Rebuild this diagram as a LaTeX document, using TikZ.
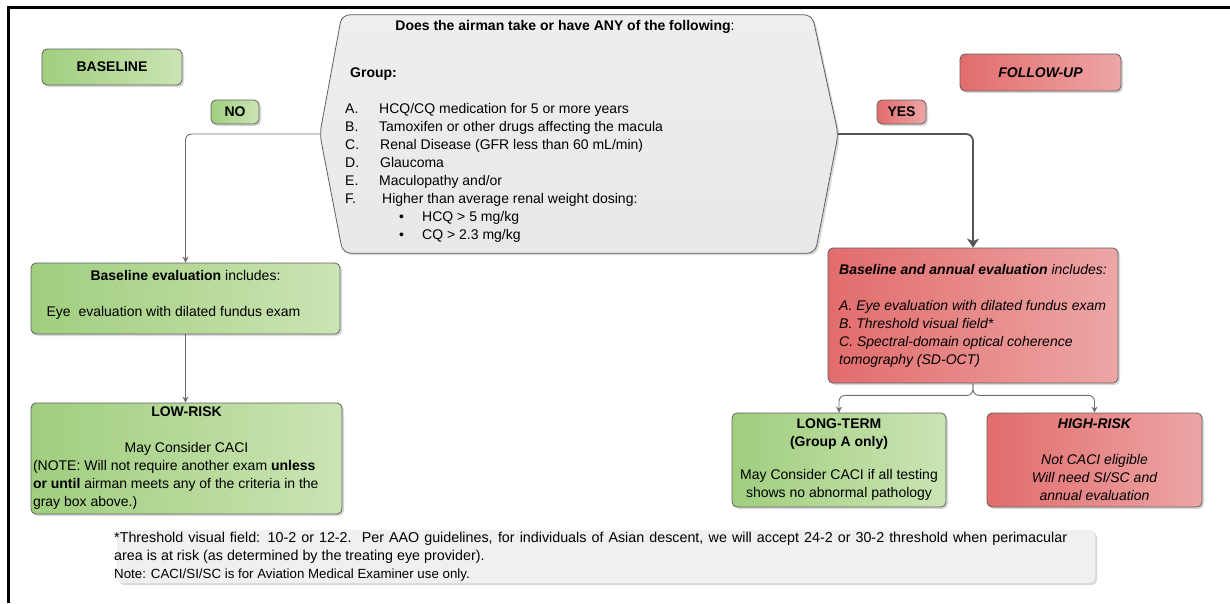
\documentclass[tikz,border=0pt]{standalone}
\usepackage{fontspec}
\setmainfont{Liberation Sans}
\usetikzlibrary{shadows,arrows.meta}
\definecolor{greenL}{RGB}{160,206,126}
\definecolor{greenR}{RGB}{203,228,180}
\definecolor{redL}{RGB}{226,108,108}
\definecolor{redR}{RGB}{237,166,166}
\definecolor{hexT}{RGB}{238,238,238}
\definecolor{hexB}{RGB}{232,232,232}
\definecolor{footc}{RGB}{240,240,240}
\definecolor{edge}{RGB}{95,95,95}
\definecolor{connc}{RGB}{110,110,110}
\definecolor{yesc}{RGB}{85,85,85}
\newcommand\mainsize{\fontsize{14}{18}\selectfont}
\newcommand\footsize{\fontsize{14.3}{18}\selectfont}
\newcommand\notesize{\fontsize{13.3}{18}\selectfont}
\begin{document}
\begin{tikzpicture}[x=1pt,y=-1pt,font=\mainsize,
  shad/.style={drop shadow={shadow xshift=2pt,shadow yshift=-2pt,opacity=0.3}},
  box/.style={draw=edge,line width=0.8pt,rounded corners=5pt,shad,inner sep=2pt},
  gbox/.style={box,left color=greenL,right color=greenR},
  rbox/.style={box,left color=redL,right color=redR},
  conn/.style={draw=connc,line width=0.9pt,rounded corners=6pt,-{Stealth[length=6pt,width=6pt]}},
  yesconn/.style={draw=yesc,line width=1.8pt,rounded corners=7pt,-{Stealth[length=9pt,width=12pt,inset=2.5pt]}}]
\useasboundingbox (0,0) rectangle (1230,603);
\draw[line width=3pt] (8.5,603) -- (8.5,7) -- (1230,7);

% central hexagon
\node[minimum width=518pt,minimum height=238pt,inner sep=0] (q) at (579,134) {};
\path[draw=edge,line width=0.8pt,top color=hexT,bottom color=hexB,rounded corners=8pt,shad]
  ([xshift=22pt]q.north west) -- ([xshift=-26pt]q.north east) -- (q.east)
  -- ([xshift=-23pt]q.south east) -- ([xshift=23pt]q.south west) -- (q.west) -- cycle;
\node (qtitle) at (565,27) {\textbf{Does the airman take or have ANY of the following}:};
\node[anchor=north west,align=left,inner sep=0] (qbody) at (345,64.4) {\strut\hspace*{5pt}\textbf{Group:}\\[18pt]
\makebox[34pt][l]{A.}HCQ/CQ medication for 5 or more years\\
\makebox[34pt][l]{B.}Tamoxifen or other drugs affecting the macula\\
\makebox[35pt][l]{C.}Renal Disease (GFR less than 60 mL/min)\\
\makebox[35pt][l]{D.}Glaucoma\\
\makebox[34pt][l]{E.}Maculopathy and/or\\
\makebox[37pt][l]{F.}Higher than average renal weight dosing:\\
\hspace*{54pt}\makebox[23pt][l]{\textbullet}HCQ > 5 mg/kg\\
\hspace*{54pt}\makebox[23pt][l]{\textbullet}CQ > 2.3 mg/kg};

% labels
\node[gbox,minimum width=140pt,minimum height=36pt] (baseline) at (112,67) {\textbf{BASELINE}};
\node[gbox,minimum width=48pt,minimum height=24pt] (no) at (235,112) {\textbf{NO}};
\node[rbox,minimum width=161pt,minimum height=37pt] (follow) at (1040.5,72.5) {\textbf{\textit{FOLLOW-UP}}};
\node[rbox,minimum width=49pt,minimum height=24pt] (yes) at (901.5,112) {\textbf{YES}};

% left branch
\node[gbox,minimum width=309pt,minimum height=71pt,align=center] (baseEval) at (185.5,298.5)
  {\textbf{Baseline evaluation} includes:\\[18pt]\hspace*{-24pt}Eye\ \ evaluation with dilated fundus exam\\[-8pt]\mbox{}};
\node[gbox,minimum width=309pt,minimum height=111pt,align=center] (lowRisk) at (186.5,458.5)
  {\textbf{LOW-RISK}\\[18pt]May Consider CACI\\
   \makebox[307pt][l]{(NOTE: Will not require another exam \textbf{unless}}\\
   \makebox[307pt][l]{\textbf{or until} airman meets any of the criteria in the}\\
   \makebox[307pt][l]{gray box above.)}};

% right branch
\node[rbox,minimum width=290pt,minimum height=135pt,align=left,font=\mainsize\itshape] (annual) at (973,315.5)
  {\textbf{Baseline and annual evaluation} includes:\\[18pt]
   A. Eye evaluation with dilated fundus exam\\
   B. Threshold visual field*\\
   C. Spectral-domain optical coherence\\
   tomography (SD-OCT)};
\node[gbox,minimum width=214pt,minimum height=94pt,align=center] (longTerm) at (839,460)
  {\textbf{LONG-TERM}\\\textbf{(Group A only)}\\[15pt]May Consider CACI if all testing\\shows no abnormal pathology};
\node[rbox,minimum width=215pt,minimum height=94pt,align=center,font=\mainsize\itshape] (highRisk) at (1094.5,460)
  {\textbf{HIGH-RISK}\\[18pt]Not CACI eligible\\Will need SI/SC and\\annual evaluation};

% connectors
\draw[conn] (q.west) -| (baseEval.north);
\draw[yesconn] (q.east) -| (annual.north);
\draw[conn] (baseEval.south) -- (baseEval.south |- lowRisk.north);
\draw[conn] (annual.south) -- ++(0,12) -| (longTerm.north);
\draw[conn] (annual.south) -- ++(0,12) -| (highRisk.north);

% footer
\node[fill=footc,minimum width=978pt,minimum height=53pt,rounded corners=5pt,shad] (foot) at (606,556.5) {};
\node[anchor=north west,align=left,inner sep=0,font=\footsize] (footT) at (114,529.4)
  {\strut\makebox[953pt][s]{*Threshold visual field: 10-2 or 12-2.\ \ Per AAO guidelines, for individuals of Asian descent, we will accept 24-2 or 30-2 threshold when perimacular}\\
   area is at risk (as determined by the treating eye provider).\\
   {\notesize Note: CACI/SI/SC is for Aviation Medical Examiner use only.}};
\end{tikzpicture}
\end{document}
